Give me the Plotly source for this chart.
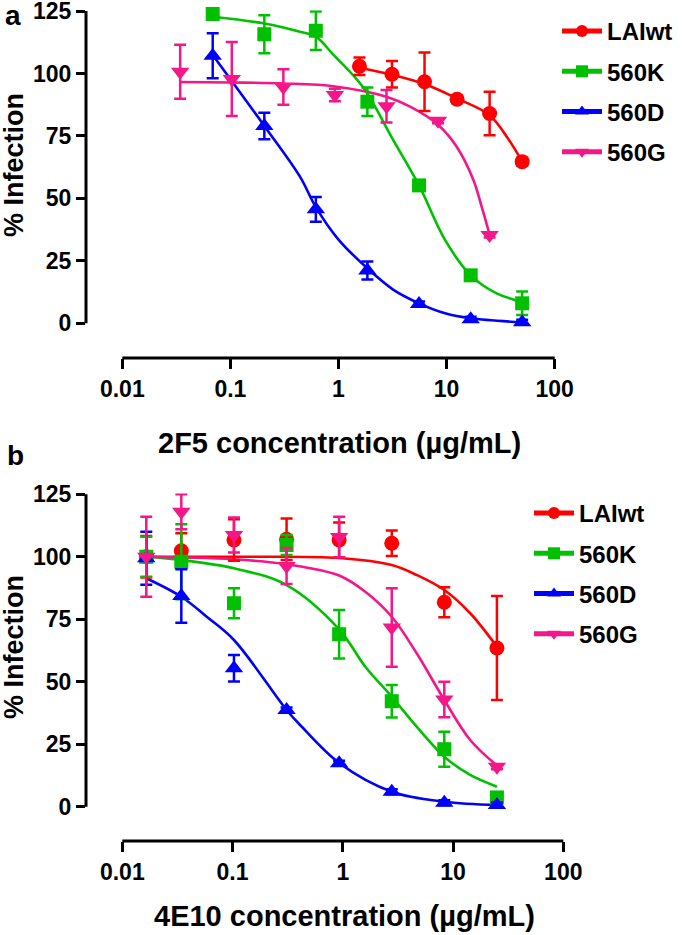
import plotly.graph_objects as go

# ---------------- data ----------------
series = ["LAIwt", "560K", "560D", "560G"]
colors = {"LAIwt": "#FF0000", "560K": "#00C000", "560D": "#0000FF", "560G": "#F5168A"}
symbols = {"LAIwt": "circle", "560K": "square", "560D": "triangle-up", "560G": "triangle-down"}
msize = {"LAIwt": 15, "560K": 14, "560D": 16, "560G": 16}

# Panel a: 2F5
a_LAIwt_x = [1.5625, 3.125, 6.25, 12.5, 25, 50]
a_LAIwt_y = [102.9, 99.7, 96.7, 89.7, 84.0, 64.7]
a_LAIwt_e = [3.5, 5.3, 11.7, 1.5, 8.7, 1.5]
a_560K_x = [0.0686, 0.206, 0.617, 1.85, 5.56, 16.7, 50]
a_560K_y = [123.8, 115.7, 117.1, 88.7, 55.2, 19.2, 8.0]
a_560K_e = [2.0, 7.6, 7.7, 5.7, 1.5, 1.5, 4.7]
a_560D_x = [0.0686, 0.206, 0.617, 1.85, 5.56, 16.7, 50]
a_560D_y = [107.1, 79.0, 45.6, 21.1, 7.7, 1.6, 0.4]
a_560D_e = [9.0, 5.3, 5.0, 3.6, 1.0, 1.0, 1.0]
a_560G_x = [0.0343, 0.103, 0.309, 0.926, 2.78, 8.33, 25]
a_560G_y = [100.7, 97.8, 94.6, 91.4, 86.9, 81.1, 35.3]
a_560G_e = [10.8, 14.8, 7.1, 2.5, 6.5, 1.0, 1.0]

# fitted curves of panel a, read at points along each line
a_LAIwt_cx = [1.5625, 3.125, 6.25, 12.5, 25, 36, 50]
a_LAIwt_cy = [102.3, 99.5, 95.8, 90.0, 83.3, 74.7, 64.8]
a_560K_cx = [0.0686, 0.206, 0.44, 0.617, 0.9, 1.69, 3.2, 5.56, 9.7, 16.7, 29, 50]
a_560K_cy = [122.7, 120.0, 116.7, 114.7, 107.4, 94.5, 73.4, 55.2, 33.3, 19.2, 12.0, 8.6]
a_560D_cx = [0.0686, 0.206, 0.44, 0.617, 1.0, 1.85, 3.2, 5.56, 9.7, 16.7, 50]
a_560D_cy = [107.4, 79.0, 58.7, 46.5, 33.5, 22.0, 13.5, 8.0, 4.0, 2.0, 0.4]
a_560G_cx = [0.0343, 0.103, 0.309, 0.926, 2.78, 4.6, 8.33, 12.4, 17.7, 21.1, 25]
a_560G_cy = [96.6, 96.4, 96.0, 94.8, 90.7, 86.7, 79.5, 70.7, 57.4, 46.7, 35.5]

# Panel b: 4E10
b_x = [0.0165, 0.0343, 0.103, 0.309, 0.926, 2.78, 8.33, 25]
b_LAIwt_y = [100.0, 102.4, 106.7, 107.0, 106.7, 105.4, 81.8, 63.5]
b_LAIwt_e = [8.3, 7.0, 8.3, 8.3, 7.0, 5.1, 6.0, 20.8]
b_560K_y = [100.0, 98.0, 81.4, 104.7, 69.0, 42.2, 23.0, 3.7]
b_560K_e = [8.0, 15.0, 6.0, 4.0, 9.7, 6.5, 7.0, 1.0]
b_560D_y = [99.4, 84.3, 55.4, 38.7, 17.4, 6.0, 1.6, 0.7]
b_560D_e = [10.6, 10.7, 5.3, 1.0, 1.0, 1.0, 1.0, 1.0]
b_560G_y = [100.0, 118.0, 108.7, 96.3, 107.9, 71.7, 42.9, 16.0]
b_560G_e = [16.0, 7.0, 7.0, 7.2, 8.1, 15.7, 7.1, 1.0]

b_LAIwt_cx = [0.0165, 0.1, 0.926, 2.78, 4.68, 8.33, 14.3, 25]
b_LAIwt_cy = [100.0, 100.0, 99.5, 96.7, 92.7, 86.7, 77.4, 64.0]
b_560K_cx = [0.0165, 0.0343, 0.103, 0.309, 0.926, 1.6, 2.78, 4.68, 8.33, 14.3, 25]
b_560K_cy = [100.0, 98.7, 95.4, 88.7, 71.0, 56.0, 44.0, 32.0, 20.0, 12.7, 8.0]
b_560D_cx = [0.0165, 0.0343, 0.0583, 0.103, 0.309, 0.41, 0.926, 2.78, 8.33, 25]
b_560D_cy = [91.4, 84.0, 76.0, 66.7, 38.7, 32.7, 17.5, 6.0, 2.0, 0.7]
b_560G_cx = [0.0165, 0.0343, 0.103, 0.309, 0.926, 1.6, 2.78, 4.68, 8.33, 14.3, 25]
b_560G_cy = [100.0, 99.7, 99.0, 97.0, 92.5, 86.0, 76.0, 61.4, 42.7, 26.7, 16.5]

x_tickvals = [0.01, 0.1, 1, 10, 100]
x_ticktext = ["0.01", "0.1", "1", "10", "100"]
y_tickvals = [0, 25, 50, 75, 100, 125]

panel_a = {
    "LAIwt": (a_LAIwt_x, a_LAIwt_y, a_LAIwt_e, a_LAIwt_cx, a_LAIwt_cy),
    "560K": (a_560K_x, a_560K_y, a_560K_e, a_560K_cx, a_560K_cy),
    "560D": (a_560D_x, a_560D_y, a_560D_e, a_560D_cx, a_560D_cy),
    "560G": (a_560G_x, a_560G_y, a_560G_e, a_560G_cx, a_560G_cy),
}
panel_b = {
    "LAIwt": (b_x, b_LAIwt_y, b_LAIwt_e, b_LAIwt_cx, b_LAIwt_cy),
    "560K": (b_x, b_560K_y, b_560K_e, b_560K_cx, b_560K_cy),
    "560D": (b_x, b_560D_y, b_560D_e, b_560D_cx, b_560D_cy),
    "560G": (b_x, b_560G_y, b_560G_e, b_560G_cx, b_560G_cy),
}

# ---------------- figure ----------------
W, H = 685, 935
ML, MR, MT, MB = 86, 0, 10, 94
PW, PH = W - ML - MR, H - MT - MB
FONT = "Arial, Liberation Sans, sans-serif"


def xp(px):
    return (px - ML) / PW


def yp(py):
    return (H - MB - py) / PH


fig = go.Figure()

for panel, xa, ya, leg in [(panel_a, "x", "y", "legend"), (panel_b, "x2", "y2", "legend2")]:
    for s in series:
        dx, dy, de, cx, cy = panel[s]
        fig.add_trace(go.Scatter(
            x=cx, y=cy, mode="lines+markers", name=s, xaxis=xa, yaxis=ya,
            line=dict(color=colors[s], width=2.6, shape="spline", smoothing=1.0),
            marker=dict(symbol=symbols[s], size=0.01, color=colors[s]),
            legend=leg, legendgroup=leg + s, showlegend=True, hoverinfo="skip",
            cliponaxis=False))
    for s in series:
        dx, dy, de, cx, cy = panel[s]
        fig.add_trace(go.Scatter(
            x=dx, y=dy, mode="markers", name=s, xaxis=xa, yaxis=ya,
            marker=dict(symbol=symbols[s], size=msize[s], color=colors[s]),
            error_y=dict(type="data", array=de, visible=True, color=colors[s],
                         thickness=2.5, width=6),
            showlegend=False, cliponaxis=False))

axfont = dict(family=FONT, size=23, color="black", weight="bold")

YTOP = 125.3
a_left = -2 - (122.3 - 86) / 108.1
b_left = -2 - (122.3 - 86) / 110.25
a_ymin = -(358 - 323.3) / 2.4984
b_ymin = -(841 - 806.7) / 2.4992
a_top_px = 11 - (YTOP - 125) * 2.4984
b_top_px = 494.3 - (YTOP - 125) * 2.4992

common_x = dict(type="log", tickvals=x_tickvals, ticktext=x_ticktext, ticks="outside",
                ticklen=10, tickwidth=3, tickcolor="black", showline=False,
                showgrid=False, zeroline=False, tickfont=axfont,
                ticklabeloverflow="allow")
common_y = dict(tickvals=y_tickvals, ticks="outside", ticklen=9, tickwidth=3,
                tickcolor="black", showline=False, showgrid=False, zeroline=False,
                tickfont=axfont, ticklabeloverflow="allow")

legfont = dict(family=FONT, size=24, color="black", weight="bold")
fig.update_layout(
    width=W, height=H, margin=dict(l=ML, r=MR, t=MT, b=MB, autoexpand=False),
    paper_bgcolor="white", plot_bgcolor="white",
    font=dict(family=FONT, color="black"),
    xaxis=dict(domain=[0, (554.7 - ML) / PW], range=[a_left, 2], anchor="y", **common_x),
    yaxis=dict(domain=[yp(358), yp(a_top_px)], range=[a_ymin, YTOP], anchor="x", **common_y),
    xaxis2=dict(domain=[0, (563.3 - ML) / PW], range=[b_left, 2], anchor="y2", **common_x),
    yaxis2=dict(domain=[yp(841), yp(b_top_px)], range=[b_ymin, YTOP], anchor="x2", **common_y),
    legend=dict(x=xp(557), y=yp(9), xanchor="left", yanchor="top", font=legfont,
                itemsizing="constant", tracegroupgap=6, itemwidth=40,
                bgcolor="rgba(0,0,0,0)", traceorder="grouped"),
    legend2=dict(x=xp(529), y=yp(491), xanchor="left", yanchor="top", font=legfont,
                 itemsizing="constant", tracegroupgap=6, itemwidth=40,
                 bgcolor="rgba(0,0,0,0)", traceorder="grouped"),
    showlegend=True,
)

# axis lines (offset GraphPad style): y spine 0..125, x spine 0.01..100
for xd, yd, left, ymin in [("x domain", "y domain", a_left, a_ymin),
                           ("x2 domain", "y2 domain", b_left, b_ymin)]:
    fx = (-2 - left) / (2 - left)
    fy0 = (0 - ymin) / (YTOP - ymin)
    fy1 = (125 - ymin) / (YTOP - ymin)
    fig.add_shape(type="line", xref=xd, yref=yd, x0=fx, x1=1, y0=0, y1=0,
                  line=dict(color="black", width=3))
    fig.add_shape(type="line", xref=xd, yref=yd, x0=0, x1=0, y0=fy0, y1=fy1,
                  line=dict(color="black", width=3))

ytitlefont = dict(family=FONT, size=27, color="black", weight="bold")
xtitlefont = dict(family=FONT, size=29, color="black", weight="bold")
ann = [
    ("% Infection", 14, 165, -90, ytitlefont),
    ("% Infection", 14, 647, -90, ytitlefont),
    ("2F5 concentration (µg/mL)", 339, 443, 0, xtitlefont),
    ("4E10 concentration (µg/mL)", 344, 916, 0, xtitlefont),
]
for text, px, py, ang, f in ann:
    fig.add_annotation(text=text, xref="paper", yref="paper", x=xp(px), y=yp(py),
                       xanchor="center", yanchor="middle", textangle=ang,
                       showarrow=False, font=f)
for text, px, py in [("a", 13, 15), ("b", 15, 455)]:
    fig.add_annotation(text=text, xref="paper", yref="paper", x=xp(px), y=yp(py),
                       xanchor="center", yanchor="middle", showarrow=False,
                       font=dict(family=FONT, size=28, color="black", weight="bold"))

fig.write_html("out.html", config={"displayModeBar": False},
               post_script="document.body.style.margin='0px';")
